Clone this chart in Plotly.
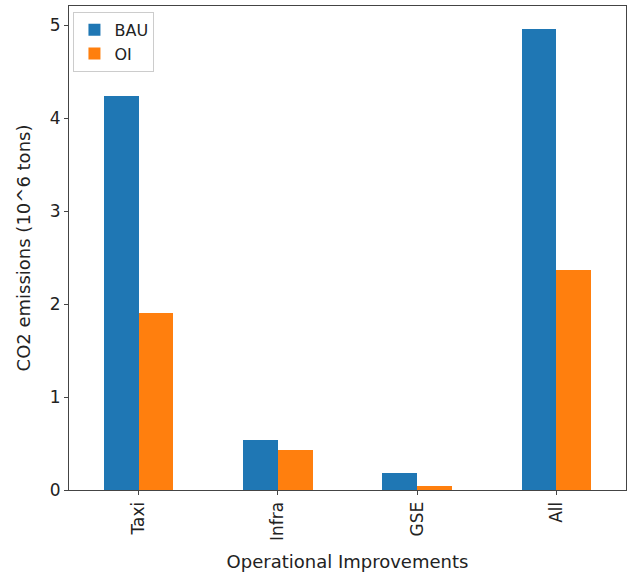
import plotly.graph_objects as go

# CO2 emissions per operational improvement scenario (10^6 tons)
categories = ["Taxi", "Infra", "GSE", "All"]
bau_values = [4.24, 0.54, 0.186, 4.96]
oi_values = [1.90, 0.43, 0.04, 2.37]
y_ticks = [0, 1, 2, 3, 4, 5]

positions = list(range(len(categories)))
bar_w = 0.25

fig = go.Figure()
fig.add_trace(go.Bar(
    x=[p - bar_w / 2 for p in positions], y=bau_values, width=bar_w,
    name="BAU", marker=dict(color="#1f77b4", line=dict(width=0)),
))
fig.add_trace(go.Bar(
    x=[p + bar_w / 2 for p in positions], y=oi_values, width=bar_w,
    name="OI", marker=dict(color="#ff7f0e", line=dict(width=0)),
))

font_family = "DejaVu Sans"
fig.update_layout(
    width=627, height=576,
    margin=dict(l=69, r=1, t=6, b=86),
    plot_bgcolor="white", paper_bgcolor="white",
    barmode="overlay", bargap=0,
    font=dict(family=font_family, color="#222", size=17),
    showlegend=True,
    legend=dict(
        x=0.008, y=0.988, xanchor="left", yanchor="top",
        bordercolor="#cccccc", borderwidth=1, bgcolor="rgba(255,255,255,0.8)",
        font=dict(size=16, family=font_family),
        tracegroupgap=0, itemwidth=30,
    ),
    xaxis=dict(
        range=[-0.5, len(categories) - 0.5],
        tickmode="array", tickvals=positions, ticktext=categories,
        tickangle=-90, ticks="outside", ticklen=4, tickcolor="#444",
        showline=True, linecolor="#444", linewidth=1, mirror=True,
        showgrid=False, zeroline=False,
        tickfont=dict(size=17),
        title=dict(text="Operational Improvements", font=dict(size=18), standoff=15),
    ),
    yaxis=dict(
        range=[0, 5.205],
        tickmode="array", tickvals=y_ticks,
        ticks="outside", ticklen=4, tickcolor="#444",
        showline=True, linecolor="#444", linewidth=1, mirror=True,
        showgrid=False, zeroline=False,
        tickfont=dict(size=17),
        title=dict(text="CO2 emissions (10^6 tons)", font=dict(size=18), standoff=14),
    ),
)

fig.write_html("out.html")
